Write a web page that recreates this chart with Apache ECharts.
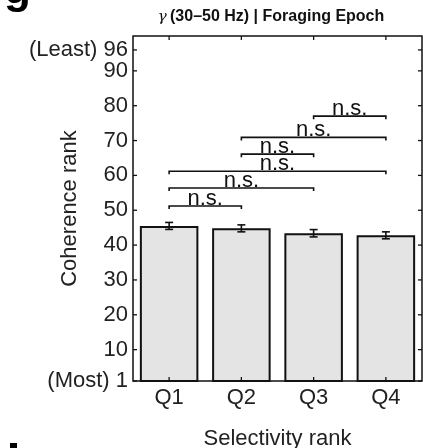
<!DOCTYPE html>
<html><head><meta charset="utf-8">
<script src="https://cdn.jsdelivr.net/npm/echarts@6/dist/echarts.min.js"></script>
<style>html,body{margin:0;padding:0;background:#fff}#c{width:423px;height:448px}</style>
</head><body><div id="c"></div>
<script>
const categories = ['Q1', 'Q2', 'Q3', 'Q4'];
const means = [45.5, 44.8, 43.4, 42.8];
const errors = [1.0, 1.0, 1.05, 1.0];
const yTicks = [1, 10, 20, 30, 40, 50, 60, 70, 80, 90, 96];
const yTickLabels = ['1', '10', '20', '30', '40', '50', '60', '70', '80', '90', '96'];
const comparisons = [[0, 1], [0, 2], [0, 3], [1, 2], [1, 3], [2, 3]];
const bracketLevels = [51.2, 56.4, 61.2, 66.1, 70.9, 77.0];
const bracketLabels = ['n.s.', 'n.s.', 'n.s.', 'n.s.', 'n.s.', 'n.s.'];
const titleText = '(30–50 Hz) | Foraging Epoch';

const FONT = 'Liberation Sans, Arial, sans-serif';
const chart = echarts.init(document.getElementById('c'), null, {renderer: 'canvas'});

const bracketData = comparisons.map((c, k) => [c[0], c[1], bracketLevels[k]]);
const errData = means.map((m, i) => [i, m, errors[i]]);
const tickData = yTicks.map(v => [0, v]);
const catTickData = categories.map((c, i) => [i, 1]);

chart.setOption({
  animation: false,
  backgroundColor: '#fff',
  grid: {left: 133, right: 1, top: 36, bottom: 67, show: true, borderColor: '#111', borderWidth: 1.5,
         containLabel: false, outerBoundsMode: 'none'},
  graphic: [
    {type: 'text', x: 271, y: 17, style: {
      text: '{g|γ} {b|' + titleText + '}', align: 'center', verticalAlign: 'middle',
      rich: {g: {fontFamily: 'DejaVu Serif, serif', fontStyle: 'italic', fontSize: 15, fill: '#111'},
             b: {fontFamily: FONT, fontWeight: 'bold', fontSize: 16, fill: '#111'}}
    }},
    {type: 'text', x: 4, y: -31, style: {text: 'g', fontFamily: FONT, fontWeight: 'bold', fontSize: 44, fill: '#000'}},
    {type: 'rect', shape: {x: 10, y: 443, width: 7, height: 5}, style: {fill: '#000'}}
  ],
  xAxis: {
    type: 'category', data: categories,
    axisLine: {show: false},
    axisTick: {show: false},
    splitLine: {show: false},
    axisLabel: {fontFamily: FONT, fontSize: 22, color: '#222', margin: 6},
    name: 'Selectivity rank', nameLocation: 'middle', nameGap: 47,
    nameTextStyle: {fontFamily: FONT, fontSize: 22, color: '#222'}
  },
  yAxis: {
    type: 'value', min: 1, max: 100,
    axisLine: {show: false}, splitLine: {show: false}, axisTick: {show: false}, axisLabel: {show: false},
    name: 'Coherence rank', nameLocation: 'middle', nameGap: 52, nameRotate: 90,
    nameTextStyle: {fontFamily: FONT, fontSize: 22, color: '#222'}
  },
  series: [{
    type: 'bar', data: means, barWidth: '81%',
    itemStyle: {color: '#e4e4e4', borderColor: '#111', borderWidth: 2}
  }, {
    type: 'custom', data: errData, encode: {x: 0, y: 1}, z: 5,
    renderItem: function (params, api) {
      const i = api.value(0), m = api.value(1), e = api.value(2);
      const lo = api.coord([i, m - e]), hi = api.coord([i, m + e]);
      const w = 4, st = {stroke: '#111', lineWidth: 1.6};
      return {type: 'group', children: [
        {type: 'line', shape: {x1: lo[0], y1: lo[1], x2: hi[0], y2: hi[1]}, style: st},
        {type: 'line', shape: {x1: lo[0] - w, y1: lo[1], x2: lo[0] + w, y2: lo[1]}, style: st},
        {type: 'line', shape: {x1: hi[0] - w, y1: hi[1], x2: hi[0] + w, y2: hi[1]}, style: st}
      ]};
    }
  }, {
    type: 'custom', data: tickData, encode: {x: 0, y: 1}, z: 7, clip: false,
    renderItem: function (params, api) {
      const v = api.value(1), k = params.dataIndex;
      const p = api.coord([0, v]);
      const x0 = params.coordSys.x, x1 = params.coordSys.x + params.coordSys.width;
      let txt = yTickLabels[k];
      if (k === 0) txt = '(Most) ' + txt;
      if (k === yTicks.length - 1) txt = '(Least) ' + txt;
      const st = {stroke: '#111', lineWidth: 1.3};
      return {type: 'group', children: [
        {type: 'line', shape: {x1: x0, y1: p[1], x2: x0 + 4, y2: p[1]}, style: st},
        {type: 'line', shape: {x1: x1 - 4, y1: p[1], x2: x1, y2: p[1]}, style: st},
        {type: 'text', x: x0 - 5, y: p[1], style: {text: txt, fontFamily: FONT, fontSize: 22, fill: '#222', align: 'right', verticalAlign: 'middle'}}
      ]};
    }
  }, {
    type: 'custom', data: catTickData, encode: {x: 0, y: 1}, z: 7, clip: false,
    renderItem: function (params, api) {
      const p = api.coord([api.value(0), 1]);
      const y0 = params.coordSys.y, y1 = params.coordSys.y + params.coordSys.height;
      const st = {stroke: '#111', lineWidth: 1.3};
      return {type: 'group', children: [
        {type: 'line', shape: {x1: p[0], y1: y0, x2: p[0], y2: y0 + 4}, style: st},
        {type: 'line', shape: {x1: p[0], y1: y1 - 4, x2: p[0], y2: y1}, style: st}
      ]};
    }
  }, {
    type: 'custom', data: bracketData, encode: {x: 0, y: 2}, z: 6, clip: false,
    renderItem: function (params, api) {
      const a = api.value(0), b = api.value(1), lv = api.value(2);
      const lab = bracketLabels[params.dataIndex];
      const p0 = api.coord([a, lv]), p1 = api.coord([b, lv]);
      return {type: 'group', children: [
        {type: 'polyline', shape: {points: [[p0[0], p0[1] + 3], [p0[0], p0[1]], [p1[0], p1[1]], [p1[0], p1[1] + 3]]},
         style: {stroke: '#111', lineWidth: 1.6, fill: null}},
        {type: 'text', x: (p0[0] + p1[0]) / 2, y: p0[1] + 4,
         style: {text: lab, fontFamily: FONT, fontSize: 22, fill: '#111', align: 'center', verticalAlign: 'bottom'}}
      ]};
    }
  }]
});
</script></body></html>
